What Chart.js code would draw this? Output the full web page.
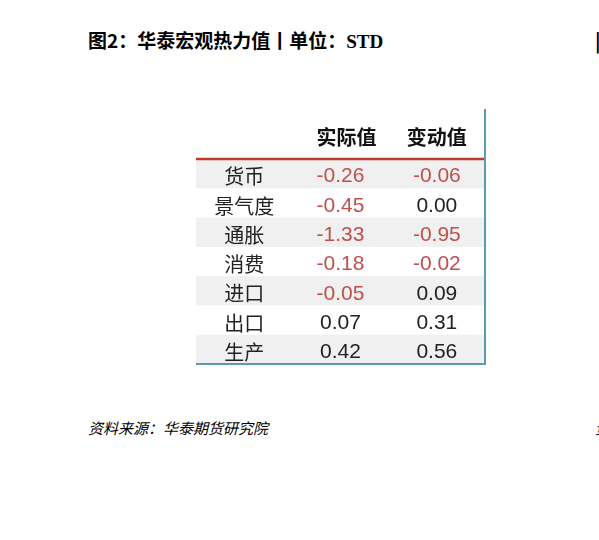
<!DOCTYPE html>
<html><head><meta charset="utf-8">
<script src="https://cdn.jsdelivr.net/npm/chart.js@4/dist/chart.umd.min.js"></script>
<style>
body{margin:0;background:#fff;width:599px;height:540px;position:relative;overflow:hidden}
#wrap{position:absolute;left:0;top:0;width:599px;height:540px}
.t{position:absolute;font-family:"Noto Sans CJK SC";color:#000;white-space:nowrap}
</style></head><body>
<div class="t" style="left:88px;top:26px;font-size:19px;font-weight:bold">图2：华泰宏观热力值丨单位：<span style="font-family:'Liberation Serif'">STD</span></div>
<div class="t" style="left:595px;top:26px;font-size:19px;font-weight:bold">|</div>
<div class="t" style="left:88px;top:417px;font-size:15px;font-style:italic">资料来源：华泰期货研究院</div>
<div class="t" style="left:595px;top:417px;font-size:15px;font-style:italic">资</div>
<div id="wrap"><canvas id="c" width="599" height="540"></canvas></div>
<script>
const rows=['货币','景气度','通胀','消费','进口','出口','生产'];
const columns=['','实际值','变动值'];
const actual=[-0.26,-0.45,-1.33,-0.18,-0.05,0.07,0.42];
const change=[-0.06,0.00,-0.95,-0.02,0.09,0.31,0.56];

const tablePlugin={id:'table',afterDraw(chart){
  const {ctx,chartArea:a,scales:{x,y}}=chart;
  const rowH=y.getPixelForValue(1)-y.getPixelForValue(0);
  ctx.save();
  rows.forEach((r,i)=>{
    const cy=y.getPixelForValue(i);
    if(i%2===0){ctx.fillStyle='#f0f0f0';ctx.fillRect(a.left,cy-rowH/2,a.right-a.left,rowH);}
    ctx.textAlign='center';ctx.textBaseline='middle';
    ctx.fillStyle='#222';ctx.font='20px "Noto Sans CJK SC"';
    ctx.fillText(r,x.getPixelForValue(0),cy+3);
    [actual[i],change[i]].forEach((v,j)=>{
      ctx.fillStyle=v<0?'#c0504d':'#222';
      ctx.font='21px "Liberation Sans Narrow","Liberation Sans"';
      ctx.fillText(v<0?'-'+Math.abs(v).toFixed(2):v.toFixed(2),x.getPixelForValue(j+1),cy+3);
    });
  });
  ctx.fillStyle='#111';ctx.font='bold 20px "Noto Sans CJK SC"';
  columns.forEach((c,j)=>{if(c)ctx.fillText(c,x.getPixelForValue(j)+(j===1?6:0),a.top-22);});
  ctx.strokeStyle='#c0392b';ctx.lineWidth=2.5;
  ctx.beginPath();ctx.moveTo(a.left,a.top);ctx.lineTo(a.right,a.top);ctx.stroke();
  ctx.strokeStyle='#5b9bb0';ctx.lineWidth=2;
  ctx.beginPath();ctx.moveTo(a.right,a.top-50);ctx.lineTo(a.right,a.bottom);ctx.lineTo(a.left,a.bottom);ctx.stroke();
  ctx.restore();
}};

new Chart(document.getElementById('c'),{
  type:'bar',
  data:{labels:rows,datasets:[{data:[],backgroundColor:'transparent'}]},
  options:{responsive:false,animation:false,indexAxis:'y',
    layout:{padding:{left:196,right:114,top:159,bottom:176}},
    plugins:{legend:{display:false},tooltip:{enabled:false}},
    scales:{
      y:{type:'category',labels:rows,display:false,offset:true},
      x:{type:'category',labels:columns,display:false,offset:true}
    }},
  plugins:[tablePlugin]
});
</script></body></html>
